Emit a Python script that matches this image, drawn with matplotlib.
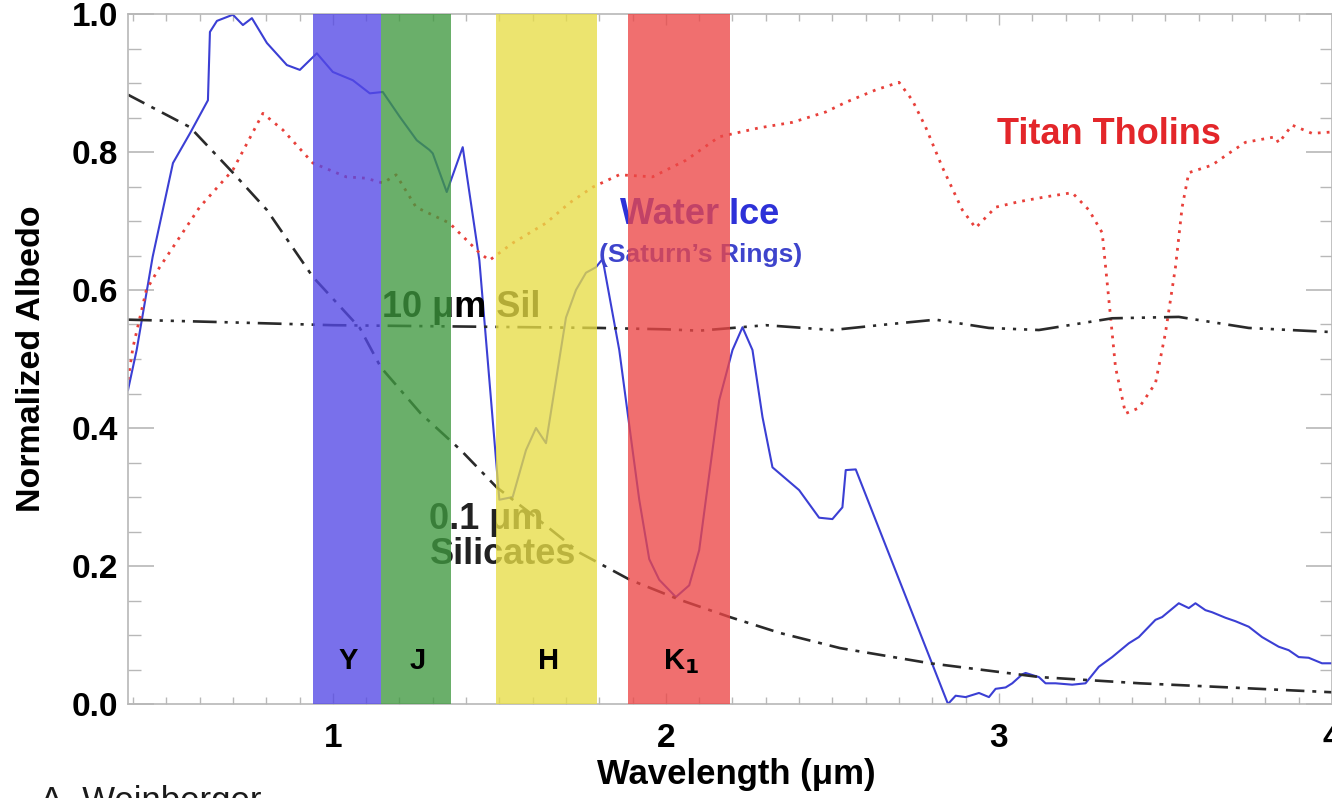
import matplotlib
matplotlib.use("Agg")
import matplotlib.pyplot as plt
from matplotlib.ticker import MultipleLocator

plt.rcParams['font.family'] = ['Liberation Sans', 'DejaVu Sans']

# water ice (Saturn's rings), solid blue
ice_x = [0.385, 0.411, 0.459, 0.520, 0.571, 0.625, 0.631, 0.652, 0.700, 0.730,
         0.757, 0.802, 0.862, 0.901, 0.952, 1.000, 1.060, 1.111, 1.150, 1.201,
         1.252, 1.290, 1.300, 1.342, 1.390, 1.440, 1.500, 1.540, 1.580, 1.610,
         1.640, 1.700, 1.730, 1.760, 1.790, 1.810, 1.860, 1.900, 1.920, 1.950,
         1.980, 2.030, 2.070, 2.100, 2.120, 2.160, 2.200, 2.230, 2.260, 2.290,
         2.320, 2.400, 2.460, 2.500, 2.530, 2.540, 2.570, 2.847, 2.870, 2.900,
         2.940, 2.970, 2.990, 3.020, 3.040, 3.070, 3.080, 3.120, 3.140, 3.170,
         3.220, 3.260, 3.300, 3.340, 3.390, 3.420, 3.470, 3.490, 3.540, 3.570,
         3.590, 3.620, 3.640, 3.680, 3.710, 3.750, 3.790, 3.840, 3.870, 3.900,
         3.930, 3.970, 4.000]
ice_y = [0.455, 0.513, 0.648, 0.784, 0.827, 0.875, 0.974, 0.990, 0.999, 0.984,
         0.994, 0.958, 0.926, 0.919, 0.943, 0.916, 0.904, 0.885, 0.887, 0.851,
         0.817, 0.803, 0.798, 0.742, 0.807, 0.643, 0.296, 0.300, 0.368, 0.400,
         0.378, 0.560, 0.600, 0.625, 0.633, 0.645, 0.513, 0.368, 0.296, 0.210,
         0.180, 0.155, 0.172, 0.223, 0.296, 0.440, 0.513, 0.546, 0.513, 0.416,
         0.343, 0.310, 0.270, 0.268, 0.285, 0.339, 0.340, 0.000, 0.012, 0.010,
         0.016, 0.010, 0.022, 0.024, 0.030, 0.043, 0.045, 0.039, 0.030, 0.030,
         0.028, 0.030, 0.054, 0.068, 0.088, 0.097, 0.122, 0.126, 0.146, 0.139,
         0.146, 0.136, 0.133, 0.125, 0.120, 0.112, 0.097, 0.083, 0.078, 0.068,
         0.067, 0.059, 0.059]

# titan tholins, red dotted
tho_x = [0.385, 0.40, 0.44, 0.48, 0.60, 0.70, 0.79, 0.85, 0.94, 1.04, 1.10, 1.15,
         1.19, 1.25, 1.35, 1.44, 1.47, 1.54, 1.64, 1.71, 1.78, 1.86, 1.96, 2.06,
         2.16, 2.28, 2.38, 2.48, 2.54, 2.63, 2.70, 2.74, 2.78, 2.83, 2.89, 2.93,
         2.99, 3.06, 3.14, 3.22, 3.27, 3.31, 3.33, 3.35, 3.38, 3.42, 3.47, 3.50,
         3.53, 3.55, 3.57, 3.64, 3.69, 3.74, 3.83, 3.84, 3.88, 3.94, 4.00]
tho_y = [0.470, 0.517, 0.600, 0.633, 0.720, 0.774, 0.856, 0.832, 0.784, 0.764,
         0.762, 0.755, 0.767, 0.720, 0.697, 0.654, 0.643, 0.668, 0.697, 0.726,
         0.749, 0.767, 0.764, 0.788, 0.822, 0.835, 0.843, 0.858, 0.872, 0.890,
         0.901, 0.875, 0.836, 0.778, 0.716, 0.690, 0.720, 0.728, 0.735, 0.741,
         0.716, 0.683, 0.586, 0.488, 0.421, 0.429, 0.465, 0.538, 0.633, 0.720,
         0.770, 0.781, 0.798, 0.814, 0.822, 0.813, 0.839, 0.827, 0.829]

# 0.1 micron silicates, dash-dot
sil01_x = [0.385, 0.571, 0.700, 0.802, 0.940, 1.081, 1.144, 1.264, 1.384, 1.492,
           1.592, 1.742, 1.892, 2.042, 2.192, 2.342, 2.523, 2.793, 3.123, 3.423,
           3.604, 4.000]
sil01_y = [0.883, 0.836, 0.770, 0.716, 0.619, 0.545, 0.488, 0.421, 0.368, 0.314,
           0.277, 0.219, 0.180, 0.151, 0.126, 0.103, 0.081, 0.059, 0.039, 0.030,
           0.026, 0.017]

# 10 micron silicates, dash-dot-dot-dot
sil10_x = [0.385, 0.70, 1.00, 1.40, 1.80, 2.00, 2.10, 2.30, 2.50, 2.64, 2.81,
           2.97, 3.12, 3.34, 3.54, 3.75, 4.00]
sil10_y = [0.557, 0.553, 0.549, 0.547, 0.545, 0.543, 0.541, 0.549, 0.542, 0.549,
           0.557, 0.545, 0.542, 0.559, 0.561, 0.545, 0.539]

# photometric bands
band_names = ['Y', 'J', 'H', r'K$_\mathbf{1}$']
band_lo = [0.940, 1.144, 1.490, 1.886]
band_hi = [1.144, 1.354, 1.793, 2.192]
band_colors = ['#5448e6', '#409940', '#e7dd47', '#ec4747']

fig = plt.figure(figsize=(13.32, 7.98), dpi=100)
ax = fig.add_axes([128 / 1332, 1 - 704 / 798, 1 - 128 / 1332, 690 / 798])

ax.plot(ice_x, ice_y, color='#3b3fd4', lw=1.5, zorder=2)
ax.plot(tho_x, tho_y, color='#e8403a', lw=2.0, ls=(0, (1, 2.2)), zorder=2)
ax.plot(sil01_x, sil01_y, color='#2a2a2a', lw=1.9, ls=(0, (7, 3, 1.5, 3)), zorder=2)
ax.plot(sil10_x, sil10_y, color='#2a2a2a', lw=1.9,
        ls=(0, (9, 3, 1.2, 3, 1.2, 3, 1.2, 3)), zorder=2)

# labels sitting under the bands (get tinted by them)
ax.text(1.385, 0.575, '10 μm Sil', fontsize=26, fontweight='bold', color='black',
        ha='center', va='center', zorder=3)
ax.text(1.29, 0.267, '0.1 μm', fontsize=26, fontweight='bold', color='#222222',
        ha='left', va='center', zorder=3)
ax.text(1.29, 0.216, 'Silicates', fontsize=26, fontweight='bold', color='#222222',
        ha='left', va='center', zorder=3)
ax.text(2.10, 0.709, 'Water Ice', fontsize=26, fontweight='bold', color='#2d31d8',
        ha='center', va='center', zorder=3)
ax.text(2.105, 0.651, "(Saturn’s Rings)", fontsize=19, fontweight='bold',
        color='#3e44cc', ha='center', va='center', zorder=3)
ax.text(3.33, 0.826, 'Titan Tholins', fontsize=26, fontweight='bold',
        color='#e3262a', ha='center', va='center', zorder=3)

for lo, hi, c, name in zip(band_lo, band_hi, band_colors, band_names):
    ax.axvspan(lo, hi, color=c, alpha=0.78, lw=0, zorder=4)
    ax.text((lo + hi) / 2 + 0.005, 0.062, name, fontsize=21, fontweight='bold',
            ha='center', va='center', color='black', zorder=5)

ax.set_xlim(0.385, 4.0)
ax.set_ylim(0.0, 1.0)
ax.xaxis.set_major_locator(MultipleLocator(1))
ax.xaxis.set_minor_locator(MultipleLocator(0.1))
ax.yaxis.set_major_locator(MultipleLocator(0.2))
ax.yaxis.set_minor_locator(MultipleLocator(0.05))
ax.yaxis.set_major_formatter(plt.FormatStrFormatter('%.1f'))
ax.tick_params(which='both', direction='in', top=True, right=True, color='#b8b8b8')
ax.tick_params(axis='y', which='major', length=19, width=1.2, pad=7, labelsize=24)
ax.tick_params(axis='y', which='minor', length=9, width=1.0)
ax.tick_params(axis='x', which='major', length=8, width=1.0, pad=14, labelsize=24)
ax.tick_params(axis='x', which='minor', length=5, width=1.0)
for lab in ax.get_xticklabels() + ax.get_yticklabels():
    lab.set_fontweight('bold')
for sp in ax.spines.values():
    sp.set_color('#b8b8b8')
    sp.set_linewidth(1.2)

ax.set_xlabel('Wavelength (μm)', fontsize=25, fontweight='bold')
ax.xaxis.set_label_coords(0.505, -0.078)
ax.set_ylabel('Normalized Albedo', fontsize=24.5, fontweight='bold')
ax.yaxis.set_label_coords(-0.067, 0.5)

fig.text(40 / 1332, 13 / 798, 'A. Weinberger', fontsize=25, color='#1a1a1a',
         ha='left', va='top')

fig.savefig('out.png', dpi=100)
